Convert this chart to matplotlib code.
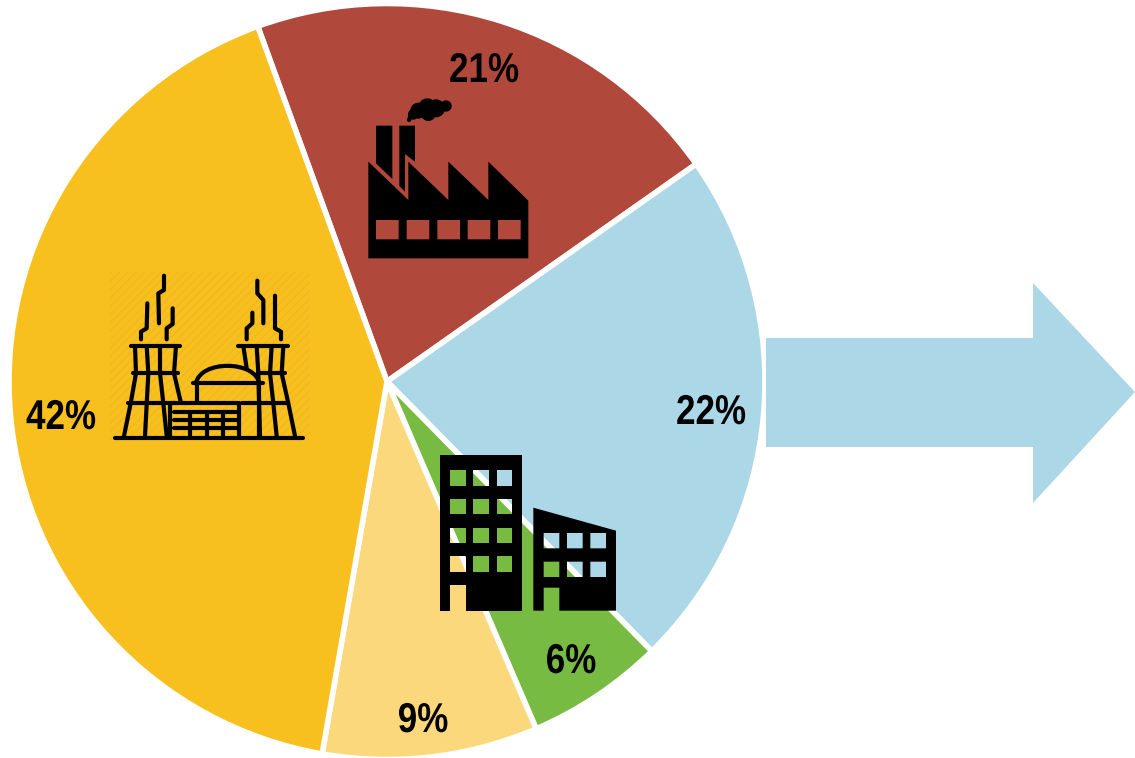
#%% Import the required libraries
import numpy as np
import matplotlib
matplotlib.use('Agg')
import matplotlib.pyplot as plt
from matplotlib.patheffects import AbstractPathEffect
from matplotlib.path import Path
from matplotlib.patches import Circle, PathPatch, Polygon, Rectangle
from matplotlib.transforms import Affine2D

#%% Data
sectors = ['Industry', 'Transport', 'Buildings', 'Other', 'Power']
shares = [20.8, 22.4, 5.9, 9.2, 41.7]      # slice sizes
labels = ['21%', '22%', '6%', '9%', '42%']  # as printed
colors = ['#b0483c', '#abd7e6', '#78bb43', '#fbd87c', '#f7c01e']

W, H = 1135, 758
FONT = ['Liberation Sans', 'DejaVu Sans']


class Narrow(AbstractPathEffect):
    # squeezes text sideways around its centre, no narrow font is installed
    def __init__(self, cx, sx):
        self.cx, self.sx = cx, sx

    def draw_path(self, renderer, gc, tpath, affine, rgbFace=None):
        squeeze = Affine2D().translate(-self.cx, 0).scale(self.sx, 1).translate(self.cx, 0)
        renderer.draw_path(gc, tpath, affine + squeeze, rgbFace)


#%% Figure, one axes in pixel units
fig = plt.figure(figsize=(W / 100, H / 100), dpi=100)
ax = fig.add_axes([0, 0, 1, 1])
ax.pie(shares, colors=colors, startangle=110, counterclock=False,
       center=(387, H - 381.5), radius=378,
       wedgeprops=dict(edgecolor='white', linewidth=4))
ax.set_xlim(0, W)
ax.set_ylim(0, H)
ax.set_aspect('equal')
ax.axis('off')

# labels, same order as the shares
label_pos = [(484, 71), (711, 413), (571, 662), (423, 721), (61, 418)]
for txt, (lx, ly) in zip(labels, label_pos):
    ax.text(lx, H - ly, txt, family=FONT, weight='bold', fontsize=30,
            ha='center', va='center', color='black', zorder=6,
            path_effects=[Narrow(lx, 0.84)])

#%% Arrow
arrow = [(766, 338), (1033, 338), (1033, 283), (1135, 392), (1033, 503), (1033, 447), (766, 447)]
ax.add_patch(Polygon([(x, H - y) for x, y in arrow], closed=True, fc=colors[1], ec='none'))


#%% Icon helpers: points come from 3x crops, (ox, oy) is the crop corner
def to_px(pts, ox, oy):
    return [(ox + x / 3, H - (oy + y / 3)) for x, y in pts]


def area(pts):
    p = np.array(pts)
    return 0.5 * np.sum(p[:, 0] * np.roll(p[:, 1], -1) - np.roll(p[:, 0], -1) * p[:, 1])


def ring(pts, hole=False):
    # outer ring one way, holes the other way so they stay see-through
    pts = list(pts)
    if (area(pts) > 0) == hole:
        pts = pts[::-1]
    return Path(pts + [pts[0]], closed=True)


def box(x0, y0, x1, y1):
    return [(x0, y0), (x1, y0), (x1, y1), (x0, y1)]


def solid(outer, holes, ox, oy):
    parts = [ring(to_px(outer, ox, oy))] + [ring(to_px(h, ox, oy), hole=True) for h in holes]
    ax.add_patch(PathPatch(Path.make_compound_path(*parts), fc='black', ec='none', zorder=5))


def stroke(pts, ox, oy, lw=3.0):
    p = np.array(to_px(pts, ox, oy))
    ax.plot(p[:, 0], p[:, 1], color='black', lw=lw, solid_capstyle='round',
            solid_joinstyle='round', zorder=5)


#%% Factory icon
ox, oy = 350, 80
body = [(55, 245), (175, 360), (175, 245), (295, 360), (295, 245), (415, 360), (415, 245),
        (535, 362), (535, 535), (55, 535)]
win_x = [(78, 146), (170, 238), (262, 330), (353, 421), (444, 512)]
solid(body, [box(a, 420, b, 478) for a, b in win_x], ox, oy)
solid([(78, 137), (127, 137), (127, 297), (78, 250)], [], ox, oy)
solid([(148, 137), (195, 137), (195, 245), (165, 222), (165, 335), (148, 318)], [], ox, oy)
# smoke puff as overlapping blobs
puffs = [(205, 92, 24), (232, 82, 27), (258, 85, 27), (288, 78, 17), (235, 100, 23), (190, 103, 16)]
for px, py, pr in puffs:
    (cx, cy), = to_px([(px, py)], ox, oy)
    ax.add_patch(Circle((cx, cy), pr / 3, fc='black', ec='none', zorder=5))
stroke([(186, 96), (177, 120)], ox, oy, lw=3.0)

#%% Nuclear plant icon
ax.add_patch(Rectangle((110, H - 440), 200, 168, fc='none', ec='#f1b820', lw=0,
                       hatch='////', zorder=2))
ox, oy = 100, 260
lines = [
    # left tower
    [(92, 258), (240, 258)], [(105, 258), (108, 340), (92, 430), (72, 528)],
    [(228, 258), (222, 340), (242, 425)], [(140, 258), (145, 340), (135, 528)],
    [(180, 258), (180, 340), (190, 430), (200, 528)], [(98, 340), (235, 340)],
    [(85, 430), (225, 430)], [(210, 430), (210, 528)],
    # right tower
    [(415, 258), (565, 258)], [(430, 258), (440, 325)],
    [(550, 258), (545, 340), (565, 430), (585, 528)],
    [(470, 258), (475, 340), (480, 528)], [(515, 258), (510, 340), (520, 430), (530, 528)],
    [(475, 340), (555, 340)], [(425, 430), (565, 430)],
    # dome walls
    [(280, 370), (490, 370)], [(290, 370), (290, 430)], [(478, 370), (478, 528)],
    # low block
    [(215, 430), (418, 430), (418, 528)], [(222, 457), (418, 457)], [(222, 480), (418, 480)],
    [(222, 505), (418, 505)], [(270, 457), (270, 528)], [(320, 457), (320, 528)],
    [(370, 457), (370, 528)],
    # ground
    [(45, 533), (610, 533)],
    # steam
    [(123, 238), (123, 215), (140, 205), (142, 130)], [(177, 190), (175, 100), (192, 90), (192, 47)],
    [(200, 238), (200, 205), (218, 192), (218, 145)], [(440, 238), (440, 205), (457, 190), (457, 158)],
    [(472, 62), (472, 100), (490, 120), (490, 190)], [(525, 107), (525, 205), (543, 215), (543, 238)],
]
for seg in lines:
    stroke(seg, ox, oy)
dome = Path(to_px([(288, 370), (300, 300), (465, 300), (478, 370)], ox, oy),
            [Path.MOVETO, Path.CURVE4, Path.CURVE4, Path.CURVE4])
ax.add_patch(PathPatch(dome, fc='none', ec='black', lw=3.0, zorder=5))

#%% Office buildings icon
ox, oy = 425, 445
tall_cols = [(75, 122), (145, 192), (215, 262)]
tall_rows = [(76, 123), (162, 208), (248, 295), (334, 381)]
tall = [(45, 30), (292, 30), (292, 497), (122, 497), (122, 420), (75, 420), (75, 497), (45, 497)]
solid(tall, [box(a, c, b, d) for a, b in tall_cols for c, d in tall_rows], ox, oy)
low_cols = [(356, 403), (426, 473), (496, 543)]
low_rows = [(264, 310), (350, 396)]
low = [(325, 188), (573, 257), (573, 497), (403, 497), (403, 428), (356, 428), (356, 497), (325, 497)]
solid(low, [box(a, c, b, d) for a, b in low_cols for c, d in low_rows], ox, oy)

fig.savefig('out.png', dpi=100, facecolor='white')
